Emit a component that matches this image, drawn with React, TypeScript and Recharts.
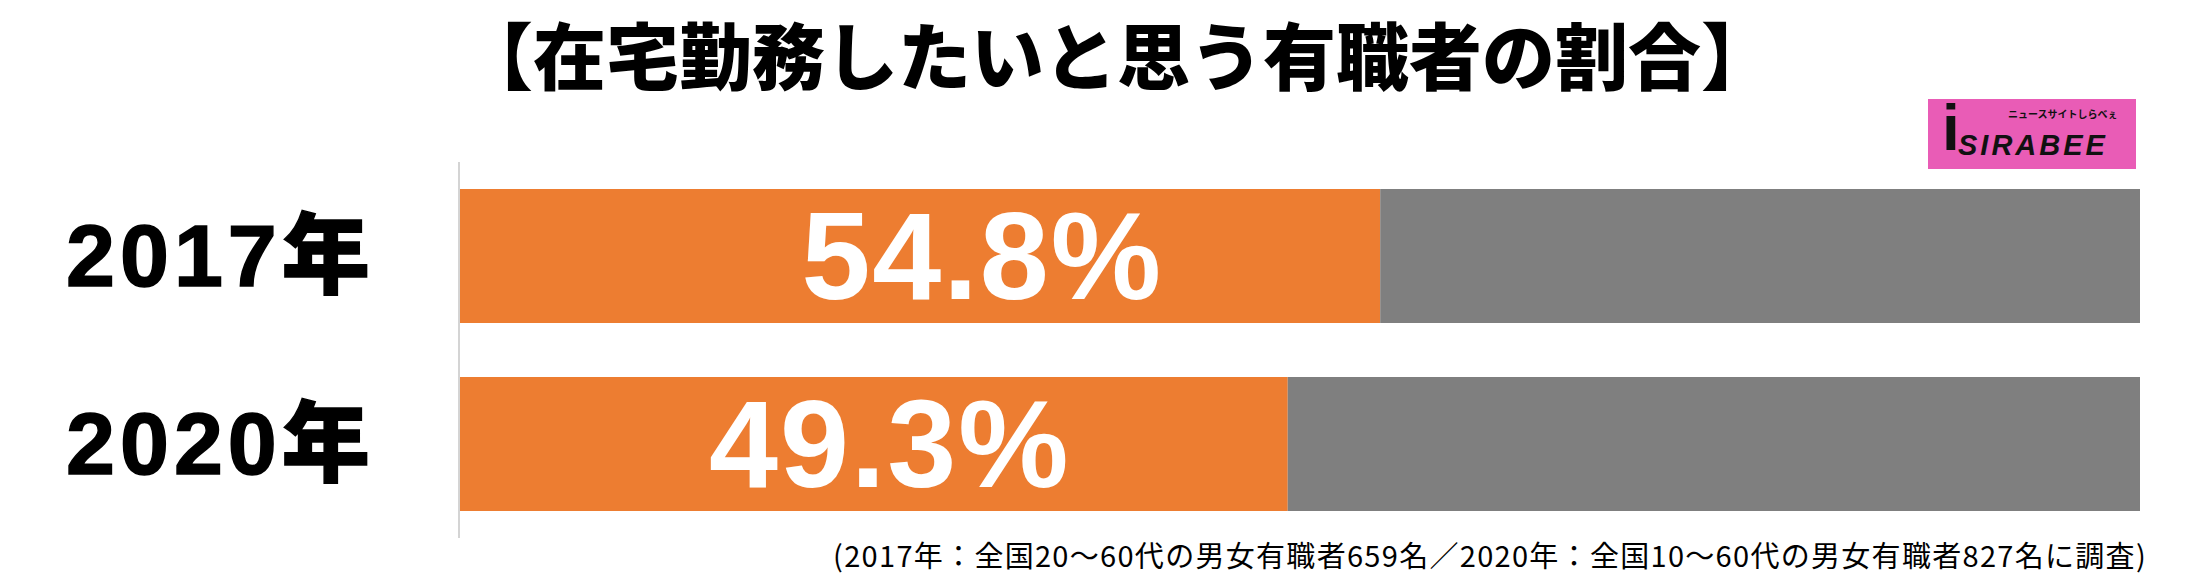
import React from 'react';
import { BarChart, Bar, XAxis, YAxis, LabelList } from 'recharts';

const years = ['2017年', '2020年'];
const shares = [54.8, 49.3];

const title = '【在宅勤務したいと思う有職者の割合】';
const note =
  '(2017年：全国20～60代の男女有職者659名／2020年：全国10～60代の男女有職者827名に調査)';

const ORANGE = '#ed7d31';
const GRAY = '#7f7f7f';

const chartData = years.map((year, i) => ({
  year,
  share: shares[i],
  rest: +(100 - shares[i]).toFixed(1)
}));

const YearTick = (props: any) => {
  const { y, payload } = props;
  return (
    <text
      x={66}
      y={y + 30}
      textAnchor="start"
      fontSize={88}
      fontWeight={900}
      letterSpacing={5}
      fontFamily="'Liberation Sans', Arial, 'Noto Sans CJK JP', sans-serif"
      fill="#000"
      stroke="#000"
      strokeWidth={1.5}
    >
      {payload.value}
    </text>
  );
};

const ShareLabel = (props: any) => {
  const { x, y, width, height, value } = props;
  return (
    <text
      x={x + width - 398}
      y={y + height / 2 + 43}
      textAnchor="middle"
      fontSize={124}
      fontWeight={700}
      letterSpacing={2}
      fontFamily="'Liberation Sans', Arial, sans-serif"
      fill="#fff"
    >
      {value}%
    </text>
  );
};

export default function App() {
  return (
    <div
      style={{
        position: 'absolute',
        left: 0,
        top: 0,
        width: 2190,
        height: 586,
        background: '#fff'
      }}
    >
      <div
        style={{
          position: 'absolute',
          left: 460,
          top: 6,
          fontSize: 73,
          lineHeight: '92px',
          fontWeight: 900,
          fontFamily: "'Noto Sans CJK JP', sans-serif",
          color: '#000',
          whiteSpace: 'nowrap'
        }}
      >
        {title}
      </div>

      <div
        style={{
          position: 'absolute',
          left: 1928,
          top: 99,
          width: 208,
          height: 70,
          background: '#e95cb6',
          fontFamily: "'Liberation Sans', Arial, sans-serif",
          color: '#111'
        }}
      >
        <span
          style={{
            position: 'absolute',
            left: 14,
            top: -6,
            fontSize: 64,
            fontWeight: 900,
            lineHeight: '70px'
          }}
        >
          i
        </span>
        <span
          style={{
            position: 'absolute',
            left: 80,
            top: 8,
            fontSize: 10,
            lineHeight: '14px',
            fontWeight: 700,
            fontFamily: "'Noto Sans CJK JP', sans-serif",
            whiteSpace: 'nowrap'
          }}
        >
          ニュースサイトしらべぇ
        </span>
        <span
          style={{
            position: 'absolute',
            left: 30,
            top: 29,
            fontSize: 29,
            fontWeight: 900,
            fontStyle: 'italic',
            lineHeight: '34px',
            letterSpacing: 3,
            whiteSpace: 'nowrap'
          }}
        >
          SIRABEE
        </span>
      </div>

      <BarChart
        width={2190}
        height={586}
        data={chartData}
        layout="vertical"
        margin={{ top: 162, right: 50, bottom: 48, left: 0 }}
        barSize={134}
        style={{ position: 'absolute', left: 0, top: 0 }}
      >
        <XAxis type="number" domain={[0, 100]} hide />
        <YAxis
          type="category"
          dataKey="year"
          width={459}
          axisLine={{ stroke: '#d4d4d4', strokeWidth: 2 }}
          tickLine={false}
          tick={<YearTick />}
        />
        <Bar dataKey="share" stackId="a" fill={ORANGE} isAnimationActive={false}>
          <LabelList dataKey="share" content={<ShareLabel />} />
        </Bar>
        <Bar dataKey="rest" stackId="a" fill={GRAY} isAnimationActive={false} />
      </BarChart>

      <div
        style={{
          position: 'absolute',
          right: 43,
          top: 536,
          fontSize: 29,
          lineHeight: '36px',
          letterSpacing: 1.3,
          fontFamily: "'Noto Sans CJK JP', sans-serif",
          color: '#000',
          whiteSpace: 'nowrap'
        }}
      >
        {note}
      </div>
    </div>
  );
}
